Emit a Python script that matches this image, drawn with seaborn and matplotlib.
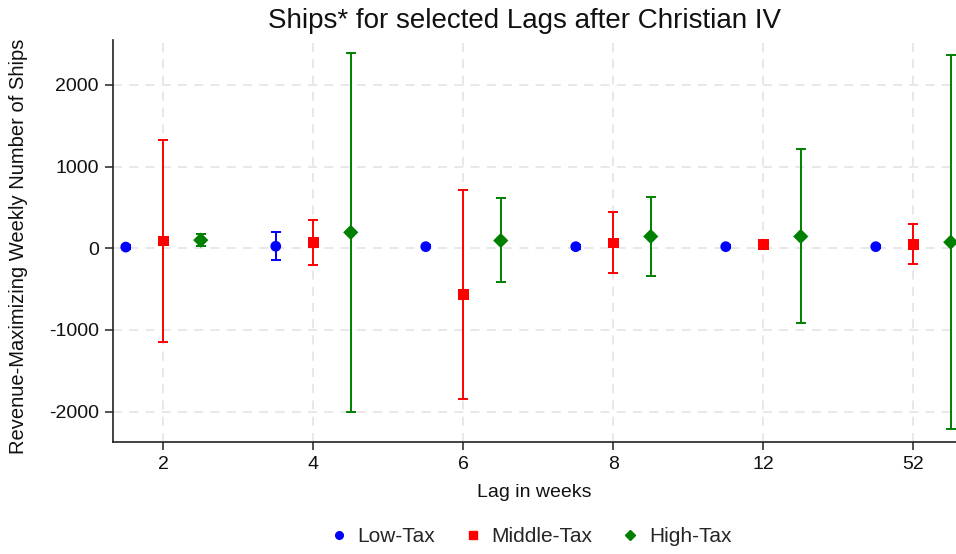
import numpy as np
import pandas as pd
import matplotlib
matplotlib.use("Agg")
import matplotlib.pyplot as plt
from matplotlib.lines import Line2D
import seaborn as sns

# Lags shown on the x axis
lags = ["2", "4", "6", "8", "12", "52"]

# Point estimates and 95% interval bounds per tax group
low_est = [15, 25, 20, 20, 20, 20]
low_lo = [-5, -140, 0, -10, 0, 0]
low_hi = [35, 195, 40, 45, 40, 40]

mid_est = [90, 75, -570, 65, 50, 50]
mid_lo = [-1145, -205, -1845, -300, 30, -195]
mid_hi = [1320, 345, 715, 440, 70, 295]

high_est = [100, 195, 95, 145, 145, 75]
high_lo = [28, -2010, -410, -335, -920, -2215]
high_hi = [180, 2395, 612, 630, 1215, 2370]

groups = ["Low-Tax", "Middle-Tax", "High-Tax"]
colors = {"Low-Tax": "#0000FF", "Middle-Tax": "#FF0000", "High-Tax": "#008000"}
markers = {"Low-Tax": "o", "Middle-Tax": "s", "High-Tax": "D"}
offsets = {"Low-Tax": -0.25, "Middle-Tax": 0.0, "High-Tax": 0.25}

rows = []
for g, est, lo, hi in [
    ("Low-Tax", low_est, low_lo, low_hi),
    ("Middle-Tax", mid_est, mid_lo, mid_hi),
    ("High-Tax", high_est, high_lo, high_hi),
]:
    for i, lag in enumerate(lags):
        rows.append({"group": g, "lag": lag, "pos": i + 1 + offsets[g],
                     "est": est[i], "lo": lo[i], "hi": hi[i]})
df = pd.DataFrame(rows)

sns.set_theme(style="white")
plt.rcParams["font.family"] = ["Liberation Sans", "DejaVu Sans"]

fig = plt.figure(figsize=(9.56, 5.54), dpi=100)
ax = fig.add_axes([0.1179, 0.2016, 0.8821, 0.7262])

# Dashed reference grid
for yv in [-2000, -1000, 0, 1000, 2000]:
    ax.axhline(yv, color="#e6e6e6", lw=1.3, ls=(0, (5, 4)), zorder=0)
for i in range(len(lags)):
    ax.axvline(i + 1, color="#e6e6e6", lw=1.3, ls=(0, (5, 4)), zorder=0)

# Confidence intervals
for g in groups:
    sub = df[df.group == g]
    ax.errorbar(sub["pos"], sub["est"],
                yerr=[sub["est"] - sub["lo"], sub["hi"] - sub["est"]],
                fmt="none", ecolor=colors[g], elinewidth=1.4,
                capsize=3.5, capthick=1.4, zorder=2)

# Point estimates
sns.scatterplot(data=df, x="pos", y="est", hue="group", style="group",
                palette=colors, markers=markers, hue_order=groups,
                style_order=groups, s=60, edgecolor="none", linewidth=0,
                legend=False, ax=ax, zorder=3, clip_on=True)

ax.set_xlim(0.663, 6.285)
ax.set_ylim(-2375, 2550)
ax.set_xticks(range(1, len(lags) + 1))
ax.set_xticklabels(lags)
ax.set_yticks([-2000, -1000, 0, 1000, 2000])
ax.set_yticklabels(["-2000", "-1000", "0", "1000", "2000"])

for side in ["top", "right"]:
    ax.spines[side].set_visible(False)
for side in ["left", "bottom"]:
    ax.spines[side].set_color("#222222")
    ax.spines[side].set_linewidth(1.2)
ax.tick_params(axis="both", which="major", direction="out", length=6,
               width=1.1, color="#222222", labelsize=14, labelcolor="#111111",
               pad=4, bottom=True, left=True)

ax.set_xlabel("Lag in weeks", fontsize=14, color="#111111", labelpad=8)
ax.set_ylabel("Revenue-Maximizing Weekly Number of Ships", fontsize=14.5,
              color="#111111")
ax.yaxis.set_label_coords(-0.101, 0.487)

fig.text(524 / 956, 1 - 21 / 554, "Ships* for selected Lags after Christian IV",
         ha="center", va="center", fontsize=20, color="#111111")

handles = [Line2D([], [], ls="none", marker=markers[g], color=colors[g],
                  markersize={"Low-Tax": 5.5, "Middle-Tax": 5.5, "High-Tax": 5}[g])
           for g in groups]
fig.legend(handles, groups, loc="center", bbox_to_anchor=(530 / 956, 1 - 537 / 554),
           ncol=3, frameon=False, fontsize=15, handlelength=1.0,
           handletextpad=0.4, columnspacing=1.3)

fig.savefig("out.png", dpi=100)
